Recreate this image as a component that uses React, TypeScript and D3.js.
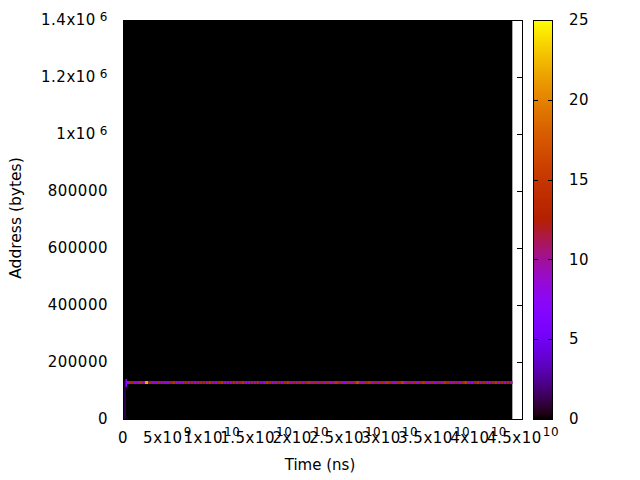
import React from "react";
import * as d3 from "d3";

// ---- data ----
const timeMax = 4.38e10; // ns, extent of the sampled image
const addrMax = 1.397e6; // bytes, extent of the sampled image
const xTicks = [0, 5e9, 1e10, 1.5e10, 2e10, 2.5e10, 3e10, 3.5e10, 4e10, 4.5e10];
const yTicks = [0, 200000, 400000, 600000, 800000, 1000000, 1200000, 1400000];
const cbTicks = [0, 5, 10, 15, 20, 25];
const lineStart = 4.5e8;
const lineAddrLow = 122800;
const lineAddrHigh = 133300;
const lineValues = [
  9, 13, 8, 9, 14, 10, 22, 12, 9, 8, 13, 9, 10, 8, 12, 14, 9, 8, 9, 13, 9, 12, 8, 10, 13, 12, 9, 14, 10, 9, 13,
  14, 9, 8, 10, 13, 9, 12, 14, 9, 8, 12, 9, 13, 6, 9, 14, 13, 9, 10, 12, 8, 13, 14, 9, 12, 10, 13, 9, 12, 14, 9, 13,
  9, 12, 8, 13, 9, 10, 14, 12, 9, 8, 13, 9, 12, 16, 9, 10, 13, 14, 9, 12, 8, 13, 9, 14, 12, 9, 10, 13, 15, 9, 12, 10,
  13, 9, 12, 14, 9, 10, 13, 8, 12, 9, 14, 13, 9, 10, 12, 9, 13, 15, 9, 8, 12, 14, 9, 13, 10, 9, 12, 14, 9, 13, 8, 12, 10,
];
// start-up accesses: [t0, t1, a0, a1, value]
const startCells: [number, number, number, number, number][] = [
  [1.7e8, 2.8e8, 0, 135000, 2.5],
  [2.8e8, 4.5e8, 112000, 140000, 7],
];

// ---- layout ----
const W = 640, H = 480;
const X0 = 123, X1 = 523, Y0 = 419, Y1 = 20;
const CB0 = 533, CB1 = 553;
const FONT = "DejaVu Sans, sans-serif";

function palette(v: number): string {
  const x = Math.max(0, Math.min(1, v / 25));
  const r = Math.sqrt(x);
  const g = x * x * x;
  const b = Math.max(0, Math.sin(2 * Math.PI * x));
  return d3.rgb(r * 255, g * 255, b * 255).formatHex();
}

function fmt(v: number): { m: string; e: string | null } {
  if (v === 0 || Math.abs(v) < 1e6) return { m: String(v), e: null };
  const e = Math.floor(Math.log10(v));
  const m = +(v / Math.pow(10, e)).toFixed(4);
  return { m: `${m}x10`, e: String(e) };
}

export default function App() {
  const x = d3.scaleLinear().domain([0, 4.5e10]).range([X0, X1]);
  const y = d3.scaleLinear().domain([0, 1.4e6]).range([Y0, Y1]);
  const cb = d3.scaleLinear().domain([0, 25]).range([Y0, Y1]);
  const cellW = (timeMax - lineStart) / lineValues.length;

  const gradStops = d3.range(0, 101).map((i) => ({ o: i / 100, c: palette((i / 100) * 25) }));

  return (
    <svg width={W} height={H} style={{ position: "absolute", left: 0, top: 0, background: "#fff" }} fontFamily={FONT}>
      <defs>
        <linearGradient id="cbg" x1="0" y1="1" x2="0" y2="0">
          {gradStops.map((s, i) => (
            <stop key={i} offset={s.o} stopColor={s.c} />
          ))}
        </linearGradient>
      </defs>
      <rect x={0} y={0} width={W} height={H} fill="#fff" />

      {/* right mirror ticks (visible outside the image) */}
      {yTicks.map((t) => (
        <line key={"ry" + t} x1={X1 - 6} x2={X1} y1={Math.round(y(t)) + 0.5} y2={Math.round(y(t)) + 0.5} stroke="#000" />
      ))}

      {/* heat map background (all-zero cells) */}
      <rect x={x(0)} y={y(addrMax)} width={x(timeMax) - x(0)} height={y(0) - y(addrMax)} fill={palette(0)} />
      {startCells.map(([t0, t1, a0, a1, v], i) => (
        <rect key={"s" + i} x={x(t0)} y={y(a1)} width={x(t1) - x(t0)} height={y(a0) - y(a1)} fill={palette(v)} />
      ))}
      {lineValues.map((v, i) => (
        <rect
          key={"c" + i}
          x={x(lineStart + i * cellW)}
          y={y(lineAddrHigh)}
          width={x(lineStart + (i + 1) * cellW) - x(lineStart + i * cellW) + 0.3}
          height={y(lineAddrLow) - y(lineAddrHigh)}
          fill={palette(v)}
        />
      ))}

      {/* frame */}
      <rect x={X0 + 0.5} y={Y1 + 0.5} width={X1 - X0 - 1} height={Y0 - Y1} fill="none" stroke="#000" />

      {/* y tick labels */}
      {yTicks.map((t) => {
        const f = fmt(t);
        return (
          <text key={"yl" + t} x={108} y={y(t)} dy="0.35em" textAnchor="end" fontSize={15} letterSpacing={0.5} fill="#000">
            {f.m}
            {f.e && (
              <tspan dx={4} dy={-4} fontSize={12}>
                {f.e}
              </tspan>
            )}
          </text>
        );
      })}

      {/* x tick labels */}
      {xTicks.map((t) => {
        const f = fmt(t);
        return (
          <text key={"xl" + t} x={x(t)} y={443} textAnchor="middle" fontSize={15} letterSpacing={0.5} fill="#000">
            {f.m}
            {f.e && (
              <tspan dx={1} dy={-7} fontSize={12}>
                {f.e}
              </tspan>
            )}
          </text>
        );
      })}

      {/* axis titles */}
      <text x={320} y={470} textAnchor="middle" fontSize={15} fill="#000">
        Time (ns)
      </text>
      <text transform="translate(21,218) rotate(-90)" textAnchor="middle" fontSize={15.5} fill="#000">
        Address (bytes)
      </text>

      {/* colour box */}
      <rect x={CB0} y={Y1} width={CB1 - CB0} height={Y0 - Y1} fill="url(#cbg)" />
      <rect x={CB0 + 0.5} y={Y1 + 0.5} width={CB1 - CB0 - 1} height={Y0 - Y1} fill="none" stroke="#000" />
      {cbTicks.map((t) => {
        const yy = Math.round(cb(t)) + 0.5;
        return (
          <g key={"cb" + t}>
            <line x1={CB0} x2={CB0 + 5} y1={yy} y2={yy} stroke="#000" />
            <line x1={CB1 - 5} x2={CB1} y1={yy} y2={yy} stroke="#000" />
            <text x={569} y={cb(t)} dy="0.35em" fontSize={15} letterSpacing={0.5} fill="#000">
              {t}
            </text>
          </g>
        );
      })}
    </svg>
  );
}
